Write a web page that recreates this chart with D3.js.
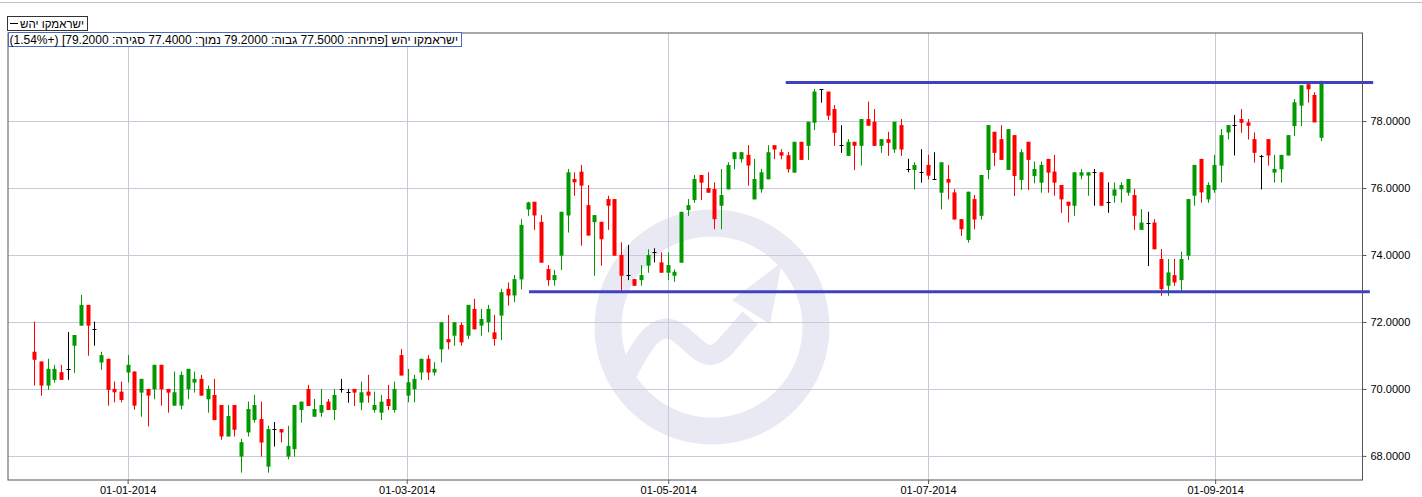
<!DOCTYPE html>
<html><head><meta charset="utf-8">
<script src="https://cdn.jsdelivr.net/npm/d3@7"></script>
<style>body{margin:0;background:#fff}svg{display:block}text{font-family:"Liberation Sans",Arial,sans-serif}</style>
</head><body><svg id="c" width="1422" height="497"></svg>
<script>
const opens=[71.11,70.82,70.10,70.27,70.50,70.59,71.29,71.89,72.51,71.79,70.79,70.90,70.00,69.92,70.49,70.52,69.89,70.00,69.99,70.72,70.00,69.50,69.50,69.99,70.19,70.30,69.69,69.82,69.52,68.58,69.52,67.98,68.70,69.07,69.10,67.68,68.80,68.80,67.98,68.20,69.37,70.00,69.17,69.29,69.62,69.37,70.00,69.90,70.00,69.59,69.92,69.37,69.29,69.70,69.37,71.01,69.80,69.99,70.49,70.90,70.49,71.18,71.49,71.59,71.91,71.59,72.39,71.89,71.99,71.69,72.19,72.99,72.79,73.27,75.36,75.59,74.99,73.58,73.25,73.98,75.18,76.27,76.49,75.49,74.98,74.99,75.67,75.67,74.00,73.40,73.28,73.25,73.68,74.08,73.78,73.47,73.38,73.77,75.34,75.64,76.39,76.00,75.97,75.47,75.96,76.86,76.86,76.99,75.66,75.96,76.26,77.28,77.07,76.98,76.46,77.38,77.26,77.95,78.95,78.88,78.36,77.28,76.96,77.38,77.26,78.06,77.98,77.26,77.46,77.15,77.88,76.56,76.54,76.47,76.69,76.26,75.86,76.27,75.87,75.07,74.45,75.67,75.17,76.54,77.68,77.46,76.54,77.58,76.24,77.38,76.36,76.16,76.87,76.49,76.09,75.59,75.47,76.37,76.37,76.47,76.47,75.57,75.77,75.96,75.86,75.79,74.75,74.97,74.97,73.88,73.08,73.40,73.25,73.98,75.77,76.87,75.66,75.94,76.67,77.66,77.88,78.06,77.96,77.46,76.97,77.46,76.46,76.56,76.97,77.85,78.46,79.10,78.78,77.50];
const highs=[72.01,70.82,70.90,70.72,70.72,71.70,71.61,72.81,72.51,72.01,71.11,70.90,70.22,70.22,71.01,70.52,70.30,70.00,70.72,70.72,70.00,70.52,70.52,70.60,70.52,70.42,70.10,70.30,69.52,69.52,69.52,68.51,69.62,69.82,69.62,68.90,69.01,68.80,68.90,69.52,69.62,70.12,69.70,70.00,69.70,70.00,70.30,70.00,70.00,70.22,70.42,69.92,69.82,70.12,70.22,71.19,70.60,70.42,70.90,71.01,70.80,71.99,72.21,71.99,71.99,72.51,72.69,72.39,72.51,72.21,72.99,73.18,73.40,75.07,75.59,75.59,75.19,73.70,73.55,75.29,76.57,76.47,76.69,76.09,75.19,74.99,75.77,75.67,74.38,74.30,73.28,73.70,74.17,74.20,74.08,74.08,73.57,75.29,75.67,76.39,76.39,76.47,76.17,76.57,76.77,77.07,77.07,77.28,76.87,76.57,77.28,77.28,77.16,77.08,77.38,77.38,77.98,78.96,78.95,78.88,78.48,77.88,77.46,77.38,78.06,78.58,78.36,77.46,77.68,77.98,78.06,76.87,76.77,77.16,76.99,77.07,76.77,76.69,75.97,75.07,75.89,75.79,76.39,77.88,77.68,77.88,77.76,77.58,77.16,77.38,76.79,76.79,76.87,76.99,76.09,75.59,76.47,76.57,76.47,76.57,76.47,76.17,76.17,76.17,76.27,75.97,75.37,75.29,75.07,74.18,73.88,73.88,74.10,75.67,76.69,76.87,76.17,76.99,77.76,77.88,78.18,78.36,78.06,77.66,76.99,77.46,76.99,76.99,77.58,78.66,79.07,79.10,78.86,79.20];
const lows=[70.10,69.80,69.97,70.19,70.27,70.27,70.48,71.89,70.99,71.29,70.57,69.50,69.60,69.60,70.19,69.38,69.17,68.88,69.69,69.50,69.29,69.50,69.39,69.69,69.89,69.80,69.29,69.07,68.48,68.58,68.58,67.50,68.58,68.99,67.98,67.50,68.28,68.40,67.90,67.98,68.99,69.49,69.17,69.17,69.37,69.07,69.89,69.59,69.49,69.37,69.59,69.29,69.07,69.37,69.29,70.40,69.60,69.60,70.27,70.27,70.40,70.79,71.18,71.29,71.29,71.49,71.78,71.59,71.69,71.29,71.46,72.49,72.59,72.97,75.17,74.75,73.77,73.08,73.08,73.55,74.67,75.77,74.28,74.58,73.38,73.68,74.75,73.98,72.91,73.25,73.08,73.08,73.47,73.78,73.47,73.25,73.20,73.77,75.17,75.56,75.64,75.86,74.77,74.77,75.96,76.56,76.76,76.07,75.66,75.86,76.26,76.86,76.86,76.46,76.46,76.84,76.84,77.73,78.55,78.03,77.26,77.05,76.96,76.54,76.67,77.86,77.26,77.05,76.96,77.05,76.96,76.47,75.96,76.16,76.26,76.26,75.36,75.66,75.06,74.57,74.37,74.77,75.06,76.26,76.66,76.84,76.54,75.76,75.94,75.94,76.14,75.86,75.86,75.77,75.26,74.97,75.17,76.26,75.77,75.47,75.47,75.26,75.56,75.56,75.77,74.75,74.75,73.67,74.17,72.78,72.78,73.08,72.94,73.85,75.47,75.56,75.56,75.86,76.16,77.45,76.97,77.65,77.45,76.76,75.96,76.67,76.16,76.16,76.97,77.55,77.85,78.55,77.96,77.40];
const closes=[70.87,70.10,70.60,70.60,70.27,70.59,71.61,72.51,71.89,71.79,71.01,69.97,69.90,69.67,70.72,69.50,70.30,69.80,70.72,69.99,69.89,69.90,70.42,70.60,70.30,69.80,70.00,69.07,68.58,69.19,68.78,68.41,69.40,69.52,68.40,68.80,68.80,68.70,68.30,69.52,69.62,69.49,69.40,69.52,69.37,69.82,70.00,69.90,69.89,69.90,69.80,69.52,69.62,69.49,70.00,70.40,70.20,70.30,70.90,70.49,70.60,71.99,71.39,71.99,71.39,72.51,71.78,72.09,72.39,71.49,72.89,72.79,73.28,74.90,75.57,75.18,73.77,73.25,73.40,75.29,76.47,76.17,76.07,74.58,75.19,74.47,75.47,73.98,73.38,73.40,73.08,73.40,74.00,74.08,73.47,73.70,73.50,75.29,75.49,76.27,76.16,75.86,75.07,75.79,76.69,77.07,77.07,76.67,76.27,76.47,77.07,77.15,76.97,76.56,77.38,76.84,77.98,78.88,78.95,78.16,77.65,77.28,77.38,77.26,78.06,77.86,77.26,77.46,77.35,77.98,77.15,76.56,76.69,76.47,76.37,76.26,76.77,76.16,75.06,74.77,75.89,75.06,76.39,77.88,77.05,76.84,77.76,76.36,77.07,76.84,76.57,76.69,76.46,76.16,75.66,75.47,76.47,76.47,76.47,76.47,75.47,75.57,75.96,76.09,76.27,75.17,74.97,74.97,74.17,72.98,73.48,73.18,73.88,75.67,76.69,75.87,76.09,76.69,77.58,77.88,77.88,77.95,77.86,77.05,76.97,76.97,76.57,76.99,77.58,78.56,79.07,78.95,77.96,79.20];
const tickIdx=[14,55.85,95.08,134.05,177.1];
const tickLabels=["01-01-2014","01-03-2014","01-05-2014","01-07-2014","01-09-2014"];
const yTicks=[68,70,72,74,76,78];
const levelValues=[72.9,79.15];
const levelFrom=[74.2,112.7];
const levelTo=[200.3,200.8];
const seriesName="ישראמקו יהש";
const infoText="ישראמקו יהש [פתיחה: 77.5000  גבוה: 79.2000  נמוך: 77.4000  סגירה: 79.2000] (+1.54%)";

const L=8,R=1362.5,T=33,B=480;
const svg=d3.select("#c");
const x=d3.scaleLinear().domain([-3.94,199.2]).range([L,R]);
const y=d3.scaleLinear().domain([67.28,80.63]).range([B,T]);
const idx=d3.range(opens.length);

// watermark
const wmc="#e9e9f3";
const wm=svg.append("g").attr("fill","none").attr("stroke",wmc);
wm.append("circle").attr("cx",712).attr("cy",327).attr("r",104).attr("stroke-width",27);
wm.append("path").attr("d","M628,372 C645,338 660,318 680,334 S706,364 724,348 L750,318").attr("stroke-width",20);
wm.append("path").attr("d","M732,300 L782,262 L770,324 Z").attr("fill",wmc).attr("stroke","none");

// gridlines
const px=v=>Math.round(v)+0.5;
svg.append("g").selectAll("line").data(yTicks).join("line")
  .attr("x1",L).attr("x2",R).attr("y1",d=>px(y(d))).attr("y2",d=>px(y(d)))
  .attr("stroke","#c9c9da").attr("stroke-width",1);
svg.append("g").selectAll("line").data(tickIdx).join("line")
  .attr("y1",T).attr("y2",B).attr("x1",d=>px(x(d))).attr("x2",d=>px(x(d)))
  .attr("stroke","#c9c9da").attr("stroke-width",1);

// candles
const col=i=>closes[i]>opens[i]?"#009900":(closes[i]<opens[i]?"#ff0000":"#000000");
const cg=svg.append("g");
cg.selectAll("line.w").data(idx).join("line").attr("class","w")
  .attr("x1",i=>px(x(i))).attr("x2",i=>px(x(i)))
  .attr("y1",i=>y(highs[i])).attr("y2",i=>y(lows[i]))
  .attr("stroke",col).attr("stroke-width",1);
cg.selectAll("rect.b").data(idx.filter(i=>opens[i]!==closes[i])).join("rect").attr("class","b")
  .attr("x",i=>Math.round(x(i))-1.5).attr("width",4)
  .attr("y",i=>y(Math.max(opens[i],closes[i])))
  .attr("height",i=>Math.max(1,Math.abs(y(opens[i])-y(closes[i]))))
  .attr("fill",col);
cg.selectAll("line.d").data(idx.filter(i=>opens[i]===closes[i])).join("line").attr("class","d")
  .attr("x1",i=>Math.round(x(i))-1.5).attr("x2",i=>Math.round(x(i))+2.5)
  .attr("y1",i=>px(y(opens[i]))).attr("y2",i=>px(y(opens[i])))
  .attr("stroke","#000").attr("stroke-width",1);

// level lines
svg.append("g").selectAll("line").data(levelValues).join("line")
  .attr("x1",(d,k)=>x(levelFrom[k])).attr("x2",(d,k)=>x(levelTo[k]))
  .attr("y1",d=>y(d)).attr("y2",d=>y(d))
  .attr("stroke","#4040c4").attr("stroke-width",3);

// border
svg.append("rect").attr("x",L).attr("y",T).attr("width",R-L).attr("height",B-T)
  .attr("fill","none").attr("stroke","#555").attr("stroke-width",1);

// axes
const ya=svg.append("g").attr("transform",`translate(${R},0)`)
  .call(d3.axisRight(y).tickValues(yTicks).tickSize(4).tickPadding(4).tickFormat(d3.format(".4f")));
ya.select(".domain").remove();
ya.selectAll("line").attr("stroke","#555");
ya.selectAll("text").attr("font-size",11).attr("fill","#000").attr("font-family","Liberation Sans, Arial, sans-serif");
const xa=svg.append("g").attr("transform",`translate(0,${B})`)
  .call(d3.axisBottom(x).tickValues(tickIdx).tickSize(4).tickPadding(2).tickFormat((d,k)=>tickLabels[k]));
xa.select(".domain").remove();
xa.selectAll("line").attr("stroke","#555");
xa.selectAll("text").attr("font-size",11).attr("fill","#000").attr("font-family","Liberation Sans, Arial, sans-serif");

// header
svg.append("line").attr("x1",0).attr("x2",1422).attr("y1",2.5).attr("y2",2.5).attr("stroke","#c0c0c0");
svg.append("rect").attr("x",7.5).attr("y",16.5).attr("width",80).attr("height",14).attr("fill","#fff").attr("stroke","#333");
svg.append("line").attr("x1",10).attr("x2",18).attr("y1",23.5).attr("y2",23.5).attr("stroke","#000");
svg.append("text").attr("x",84).attr("y",28).attr("text-anchor","end").attr("font-size",11.5).text(seriesName);
svg.append("rect").attr("x",8.5).attr("y",32.5).attr("width",453).attr("height",14).attr("fill","#fff").attr("stroke","#4a6cc0");
svg.append("text").attr("x",458).attr("y",44).attr("direction","rtl").attr("text-anchor","start").attr("font-size",12).text(infoText);
</script></body></html>
